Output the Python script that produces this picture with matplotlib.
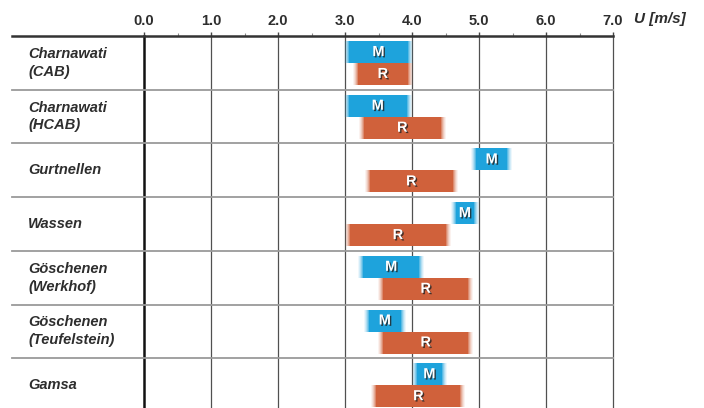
import matplotlib
matplotlib.use("Agg")
import matplotlib.pyplot as plt
import matplotlib.patheffects as pe
from matplotlib.transforms import blended_transform_factory

categories = ["Charnawati\n(CAB)", "Charnawati\n(HCAB)", "Gurtnellen", "Wassen",
              "Göschenen\n(Werkhof)", "Göschenen\n(Teufelstein)", "Gamsa"]
m_start = [3.06, 3.06, 4.96, 4.65, 3.27, 3.36, 4.07]
m_end   = [3.94, 3.92, 5.42, 4.93, 4.11, 3.83, 4.45]
r_start = [3.19, 3.28, 3.37, 3.07, 3.57, 3.57, 3.47]
r_end   = [3.94, 4.43, 4.61, 4.51, 4.84, 4.84, 4.72]
x_ticks = [0.0, 1.0, 2.0, 3.0, 4.0, 5.0, 6.0, 7.0]
unit_label = "U [m/s]"

W, H = 704, 408
fig = plt.figure(figsize=(W / 100, H / 100), dpi=100)
fig.patch.set_facecolor("white")
x0, x1, ytop = 144, 613, 36
ax = fig.add_axes([x0 / W, 0, (x1 - x0) / W, (H - ytop) / H])
row_h = 53.7
n_vis = (H - ytop) / row_h
ax.set_xlim(0, 7)
ax.set_ylim(n_vis, 0)
for s in ax.spines.values():
    s.set_visible(False)

FONT = ["Liberation Sans", "DejaVu Sans"]
txt_col = "#2e2e2e"

ax.xaxis.tick_top()
ax.set_xticks(x_ticks)
ax.set_xticklabels([f"{v:.1f}" for v in x_ticks], fontsize=10.5, fontweight="bold",
                   color=txt_col, family=FONT)
ax.set_xticks([v + 0.5 for v in x_ticks[:-1]], minor=True)
ax.tick_params(axis="x", which="major", length=3, width=1, color="#444444", pad=3)
ax.tick_params(axis="x", which="minor", length=2, width=0.8, color="#888888")
ax.set_yticks([])

# vertical grid
for v in x_ticks:
    ax.axvline(v, color="#111111" if v == 0 else "#505050", lw=1.8 if v == 0 else 0.9,
               zorder=1, clip_on=False)

trans = blended_transform_factory(fig.transFigure, ax.transData)
# separators
for i in range(1, len(categories)):
    ax.plot([12 / W, x1 / W], [i, i], transform=trans, color="#9a9a9a", lw=1.3,
            clip_on=False, zorder=1)
ax.plot([12 / W, x1 / W], [0, 0], transform=trans, color="#333333", lw=1.8,
        clip_on=False, zorder=3)

# category labels
for i, c in enumerate(categories):
    ax.text(28 / W, i + 0.5, c, transform=trans, ha="left", va="center",
            fontsize=10.5, fontweight="bold", fontstyle="italic", color=txt_col,
            family=FONT, linespacing=1.35)

# unit label
fig.text(634 / W, 1 - 19 / H, unit_label, ha="left", va="center", fontsize=11,
         fontweight="bold", fontstyle="italic", color=txt_col, family=FONT)

blue = "#1ea3dc"
orange = "#d0613b"
bh = 22 / row_h
m_off = 5 / row_h
r_off = 27 / row_h

def soft_bar(y, left, right, color, label):
    width = right - left
    for k, a in [(0.075, 0.08), (0.06, 0.12), (0.045, 0.18), (0.03, 0.28), (0.015, 0.45)]:
        ax.barh(y, width + 2 * k, left=left - k, height=bh, align="edge",
                color=color, alpha=a, lw=0, zorder=4)
    ax.barh(y, width, left=left, height=bh, align="edge", color=color, lw=0, zorder=5)
    ax.text(left + width / 2, y + bh / 2, label, ha="center", va="center",
            fontsize=10.5, fontweight="bold", color="white", family=FONT, zorder=6,
            path_effects=[pe.SimplePatchShadow(offset=(1, -1), shadow_rgbFace="#222222",
                                               alpha=0.8), pe.Normal()])

for i in range(len(categories)):
    soft_bar(i + m_off, m_start[i], m_end[i], blue, "M")
    soft_bar(i + r_off, r_start[i], r_end[i], orange, "R")

fig.savefig("out.png", dpi=100, facecolor="white")
